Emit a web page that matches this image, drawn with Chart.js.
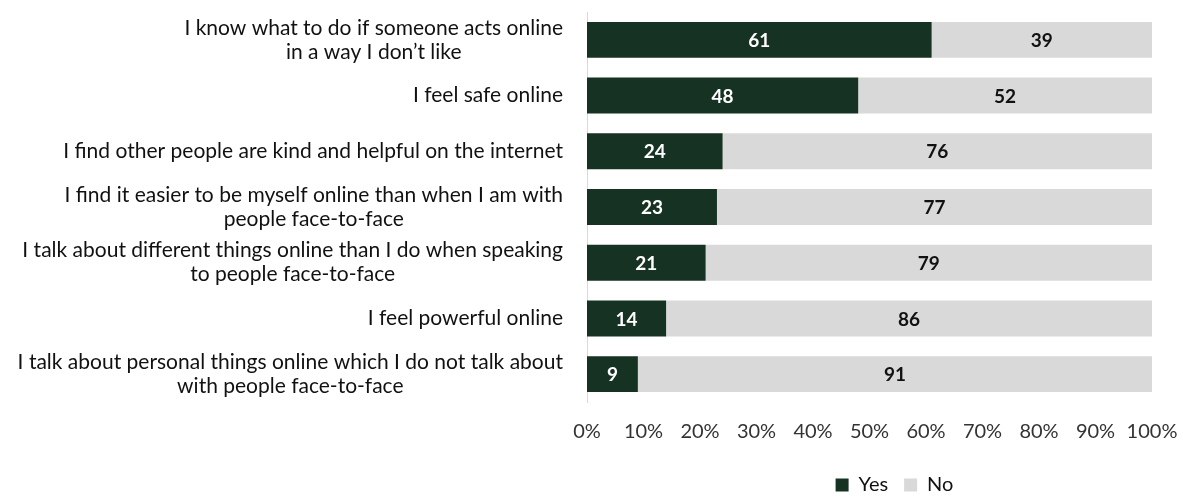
<!DOCTYPE html>
<html>
<head>
<meta charset="utf-8">
<script src="https://cdn.jsdelivr.net/npm/chart.js@4"></script>
<style>
  html, body { margin: 0; padding: 0; background: #fff; }
  #wrap { width: 1186px; height: 496px; }
</style>
</head>
<body>
<div id="wrap"><canvas id="chart"></canvas></div>
<script>
const categories = [
  ['I know what to do if someone acts online', 'in a way I don\u2019t like'],
  ['I feel safe online'],
  ['I find other people are kind and helpful on the internet'],
  ['I find it easier to be myself online than when I am with', 'people face-to-face'],
  ['I talk about different things online than I do when speaking', 'to people face-to-face'],
  ['I feel powerful online'],
  ['I talk about personal things online which I do not talk about', 'with people face-to-face'],
]
const yesValues = [61, 48, 24, 23, 21, 14, 9]
const noValues = [39, 52, 76, 77, 79, 86, 91]
const xTicks = [0, 10, 20, 30, 40, 50, 60, 70, 80, 90, 100]

const FONT = 'Lato, "Open Sans", sans-serif'
const GREEN = '#163222'
const GREY = '#d9d9d9'

// category text: block right-aligned next to the axis, lines centred within the block
const categoryLabels = {
  id: 'categoryLabels',
  afterDraw(chart) {
    const { ctx, scales: { y }, chartArea } = chart
    ctx.save()
    ctx.font = '21px ' + FONT
    ctx.fillStyle = '#111'
    ctx.textBaseline = 'middle'
    ctx.textAlign = 'center'
    const right = chartArea.left - 24
    const lineGap = 24
    categories.forEach((lines, i) => {
      const cy = y.getPixelForValue(i)
      const w = Math.max(...lines.map(l => ctx.measureText(l).width))
      const cx = right - w / 2
      lines.forEach((line, j) => {
        ctx.fillText(line, cx, cy + (j - (lines.length - 1) / 2) * lineGap)
      })
    })
    ctx.restore()
  }
}

// values written in the middle of each bar segment
const barValues = {
  id: 'barValues',
  afterDatasetsDraw(chart) {
    const { ctx } = chart
    ctx.save()
    ctx.font = 'bold 19px ' + FONT
    ctx.textAlign = 'center'
    ctx.textBaseline = 'middle'
    chart.data.datasets.forEach((ds, di) => {
      const meta = chart.getDatasetMeta(di)
      ctx.fillStyle = di === 0 ? '#fff' : '#111'
      meta.data.forEach((bar, i) => {
        const c = bar.getCenterPoint()
        ctx.fillText(String(ds.data[i]), c.x, c.y + 1)
      })
    })
    ctx.restore()
  }
}

// legend sits a little right of the plot centre and low on the canvas
const legendShift = {
  id: 'legendShift',
  beforeDraw(chart) {
    const lg = chart.legend
    if (lg && !lg._shifted) {
      lg.left += 25
      lg.right += 25
      lg.top += 9
      lg.bottom += 9
      lg._shifted = true
    }
  },
  afterUpdate(chart) {
    if (chart.legend) chart.legend._shifted = false
  }
}

new Chart(document.getElementById('chart'), {
  type: 'bar',
  data: {
    labels: categories.map(l => l.join(' ')),
    datasets: [
      { label: 'Yes', data: yesValues, backgroundColor: GREEN, borderWidth: 0 },
      { label: 'No', data: noValues, backgroundColor: GREY, borderWidth: 0 },
    ]
  },
  options: {
    indexAxis: 'y',
    responsive: true,
    maintainAspectRatio: false,
    animation: false,
    layout: {
      padding: { top: 12, right: 34, bottom: 0, left: 587 },
    },
    datasets: {
      bar: { categoryPercentage: 0.645, barPercentage: 1 },
    },
    plugins: {
      legend: {
        position: 'bottom',
        fullSize: false,
        labels: {
          boxWidth: 13,
          boxHeight: 13,
          padding: 16,
          color: '#111',
          font: { family: FONT, size: 20 },
        },
      },
      tooltip: { enabled: false },
    },
    scales: {
      x: {
        stacked: true,
        min: 0,
        max: 100,
        afterBuildTicks(scale) {
          scale.ticks = xTicks.map(v => ({ value: v }))
        },
        afterFit(scale) {
          scale.height = 48
          scale.paddingLeft = 0
          scale.paddingRight = 0
        },
        grid: { display: false, drawTicks: false },
        border: { display: false },
        ticks: {
          padding: 18,
          color: '#333',
          autoSkip: false,
          maxRotation: 0,
          minRotation: 0,
          font: { family: FONT, size: 20 },
          callback: v => v + '%',
        },
      },
      y: {
        stacked: true,
        grid: { display: false, drawTicks: false },
        border: { display: true, color: GREY, width: 1 },
        ticks: { display: false },
      },
    },
  },
  plugins: [categoryLabels, barValues, legendShift],
})
</script>
</body>
</html>
